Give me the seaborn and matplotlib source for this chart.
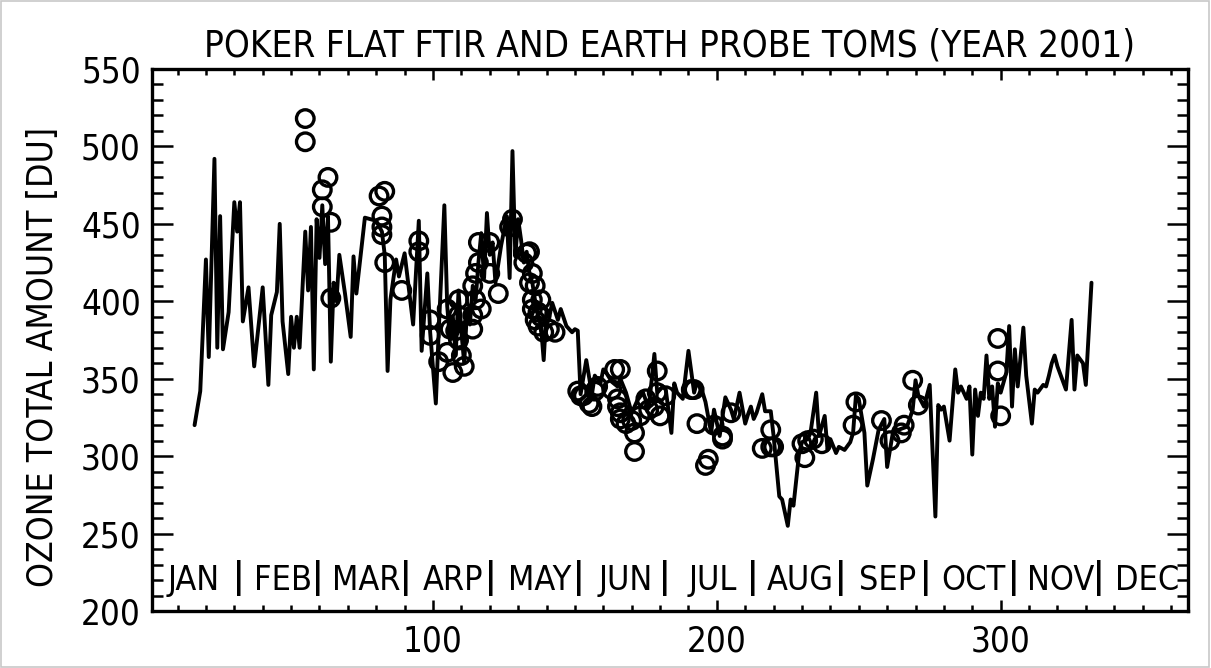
import matplotlib
matplotlib.use("Agg")
import matplotlib.pyplot as plt
import seaborn as sns
import pandas as pd
from matplotlib.patches import Rectangle
from matplotlib.ticker import MultipleLocator, FixedLocator

# ---- data: Earth Probe TOMS daily total ozone (DU) ----
toms_day = [16, 18, 20, 21, 23, 24, 25, 26, 28, 30, 31, 32, 33, 35, 37, 40, 42, 43, 45, 46,
            47, 49, 50, 51, 52, 53, 55, 56, 57, 58, 59, 60, 61, 62, 63, 64, 65, 66, 67, 69,
            71, 72, 73, 76, 78, 80, 82, 83, 84, 85, 87, 88, 90, 93, 95, 96, 98, 99, 101, 102,
            104, 105, 106, 107, 108, 109, 110, 111, 112, 113, 114, 115, 116, 117, 118, 119, 120, 121, 122, 124,
            126, 127, 128, 129, 130, 131, 132, 133, 134, 135, 136, 137, 138, 139, 140, 141, 142, 144, 145, 147,
            149, 150, 151, 152, 154, 156, 157, 159, 160, 161, 163, 165, 166, 168, 170, 172, 174, 176, 178, 179,
            181, 182, 184, 185, 186, 188, 190, 192, 193, 195, 196, 198, 199, 201, 203, 205, 206, 208, 210, 211,
            212, 213, 214, 216, 217, 219, 220, 222, 223, 225, 226, 227, 229, 230, 232, 233, 235, 236, 238, 239,
            240, 242, 243, 245, 247, 248, 249, 250, 252, 253, 255, 257, 259, 260, 262, 264, 267, 269, 270, 271,
            273, 275, 277, 278, 279, 280, 282, 284, 285, 286, 288, 289, 290, 291, 292, 293, 294, 295, 296, 297,
            298, 299, 300, 302, 303, 304, 305, 306, 308, 309, 311, 312, 313, 315, 316, 317, 318, 319, 320, 323,
            325, 326, 327, 329, 330, 332]
toms_du = [320, 342, 427, 364, 492, 370, 455, 369, 393, 464, 445, 464, 387, 409, 358, 409, 346, 391, 406, 450,
           387, 353, 390, 370, 390, 370, 445, 407, 448, 356, 453, 428, 462, 424, 455, 361, 412, 400, 430, 405,
           377, 429, 405, 454, 453, 452, 445, 430, 355, 401, 427, 416, 431, 385, 452, 368, 418, 380, 334, 380,
           462, 397, 375, 390, 365, 407, 380, 360, 395, 385, 410, 400, 425, 444, 415, 457, 430, 438, 412, 436,
           455, 415, 497, 429, 453, 440, 425, 432, 418, 412, 400, 390, 385, 362, 395, 390, 399, 388, 395, 384,
           380, 382, 381, 340, 362, 340, 352, 347, 356, 354, 348, 345, 350, 341, 328, 336, 341, 331, 366, 341,
           345, 343, 315, 347, 341, 337, 368, 341, 348, 341, 335, 315, 330, 313, 338, 330, 324, 341, 321, 327,
           332, 324, 328, 340, 329, 329, 313, 274, 272, 255, 272, 268, 302, 309, 311, 315, 341, 313, 326, 304,
           311, 302, 306, 304, 309, 315, 339, 337, 315, 281, 298, 317, 324, 293, 315, 317, 319, 330, 349, 339,
           332, 346, 261, 333, 330, 332, 310, 356, 341, 345, 337, 345, 301, 343, 326, 341, 337, 365, 337, 345,
           319, 347, 341, 354, 384, 332, 369, 345, 383, 352, 321, 343, 341, 346, 345, 352, 360, 365, 358, 343,
           388, 343, 365, 360, 346, 412]

# ---- data: Poker Flat FTIR measurements (DU) ----
ftir_day = [55, 55, 61, 61, 63, 64, 64, 81, 83, 82, 82, 82, 83, 89, 95, 95,
            99, 99, 102, 105, 106, 105, 107, 111, 110, 109, 109, 108, 109, 114, 115, 115,
            116, 114, 114, 117, 116, 120, 120, 123, 128, 127, 133, 132, 134, 135, 136, 135,
            137, 138, 137, 139, 141, 143, 134, 135, 136, 138,
            151, 152, 153, 155, 156, 157, 158, 163, 164, 166, 165, 165, 166, 166, 168, 170,
            171, 171, 173, 175, 176, 178, 179, 179, 180, 182, 191, 192, 193, 196, 197, 199,
            202, 202, 205, 216, 219, 220, 219, 230, 231, 232, 234, 237, 248, 249, 258, 261,
            265, 266, 269, 271, 299, 299, 300]
ftir_du = [518, 503, 472, 461, 480, 451, 402, 468, 471, 455, 448, 443, 425, 407, 439, 432,
           388, 378, 361, 395, 382, 367, 354, 358, 365, 401, 391, 381, 375, 410, 401, 418,
           425, 391, 382, 395, 438, 438, 418, 405, 453, 448, 431, 425, 432, 418, 410, 401,
           393, 401, 384, 380, 382, 380, 412, 395, 388, 390,
           342, 339, 339, 334, 332, 342, 345, 343, 356, 356, 337, 332, 328, 324, 321, 323,
           315, 303, 326, 337, 330, 332, 355, 341, 326, 339, 343, 343, 321, 294, 298, 320,
           313, 311, 328, 305, 306, 306, 317, 308, 299, 310, 311, 308, 320, 335, 323, 310,
           315, 320, 349, 333, 376, 355, 326]

month_names = ["JAN", "FEB", "MAR", "ARP", "MAY", "JUN", "JUL", "AUG", "SEP", "OCT", "NOV", "DEC"]
month_start = [1, 32, 60, 91, 121, 152, 182, 213, 244, 274, 305, 335, 366]

sns.set_style("ticks")
plt.rcParams['font.family'] = ['DejaVu Sans']
plt.rcParams['font.stretch'] = 'condensed'
for k in ["text.color", "axes.labelcolor", "xtick.color", "ytick.color", "axes.edgecolor"]:
    plt.rcParams[k] = "black"

fig = plt.figure(figsize=(12.11, 6.68), dpi=100)
fig.patch.set_facecolor("white")
fig.patches.append(Rectangle((0.001, 0.002), 0.997, 0.996, transform=fig.transFigure,
                             fill=False, edgecolor="#c8c8c8", linewidth=1.2))
ax = fig.add_axes([152 / 1211, 1 - 611 / 668, (1188 - 152) / 1211, (611 - 69) / 668])

toms = pd.DataFrame({"day": toms_day, "du": toms_du})
ftir = pd.DataFrame({"day": ftir_day, "du": ftir_du})
sns.lineplot(data=toms, x="day", y="du", ax=ax, color="black", linewidth=2.8,
             sort=False, estimator=None)
sns.scatterplot(data=ftir, x="day", y="du", ax=ax, marker="o", s=160,
                fc="none", ec="black", linewidth=2.4, zorder=3)

ax.set_xlim(1, 366)
ax.set_ylim(200, 550)
ax.xaxis.set_major_locator(FixedLocator([100, 200, 300]))
ax.xaxis.set_minor_locator(MultipleLocator(10))
ax.yaxis.set_major_locator(MultipleLocator(50))
ax.yaxis.set_minor_locator(MultipleLocator(10))
ax.tick_params(axis="x", which="major", direction="in", length=8, width=1.8,
               top=True, bottom=True, labelsize=25, pad=10)
ax.tick_params(axis="x", which="minor", direction="in", length=4.5, width=1.8,
               top=True, bottom=True)
ax.tick_params(axis="y", which="major", direction="in", length=15, width=1.8,
               left=True, right=True, labelsize=25, pad=8)
ax.tick_params(axis="y", which="minor", direction="in", length=8, width=1.8,
               left=True, right=True)
for sp in ax.spines.values():
    sp.set_linewidth(2.4)
    sp.set_color("black")
ax.set_xlabel("")
ax.set_ylabel("OZONE TOTAL AMOUNT [DU]", fontsize=25.5)
ax.yaxis.set_label_coords(-0.089, 0.469)
ax.set_title("POKER FLAT FTIR AND EARTH PROBE TOMS (YEAR 2001)", fontsize=26.5, pad=9)

for i, name in enumerate(month_names):
    mid = (month_start[i] + month_start[i + 1]) / 2 + 1
    if i == 0:
        mid -= 2
    ax.text(mid, 220, name, ha="center", va="center", fontsize=24.5)
    if i > 0:
        ax.text(month_start[i] - 0.5, 221, "|", ha="center", va="center",
                fontsize=25, fontweight="bold")

fig.savefig("out.png", dpi=100)
